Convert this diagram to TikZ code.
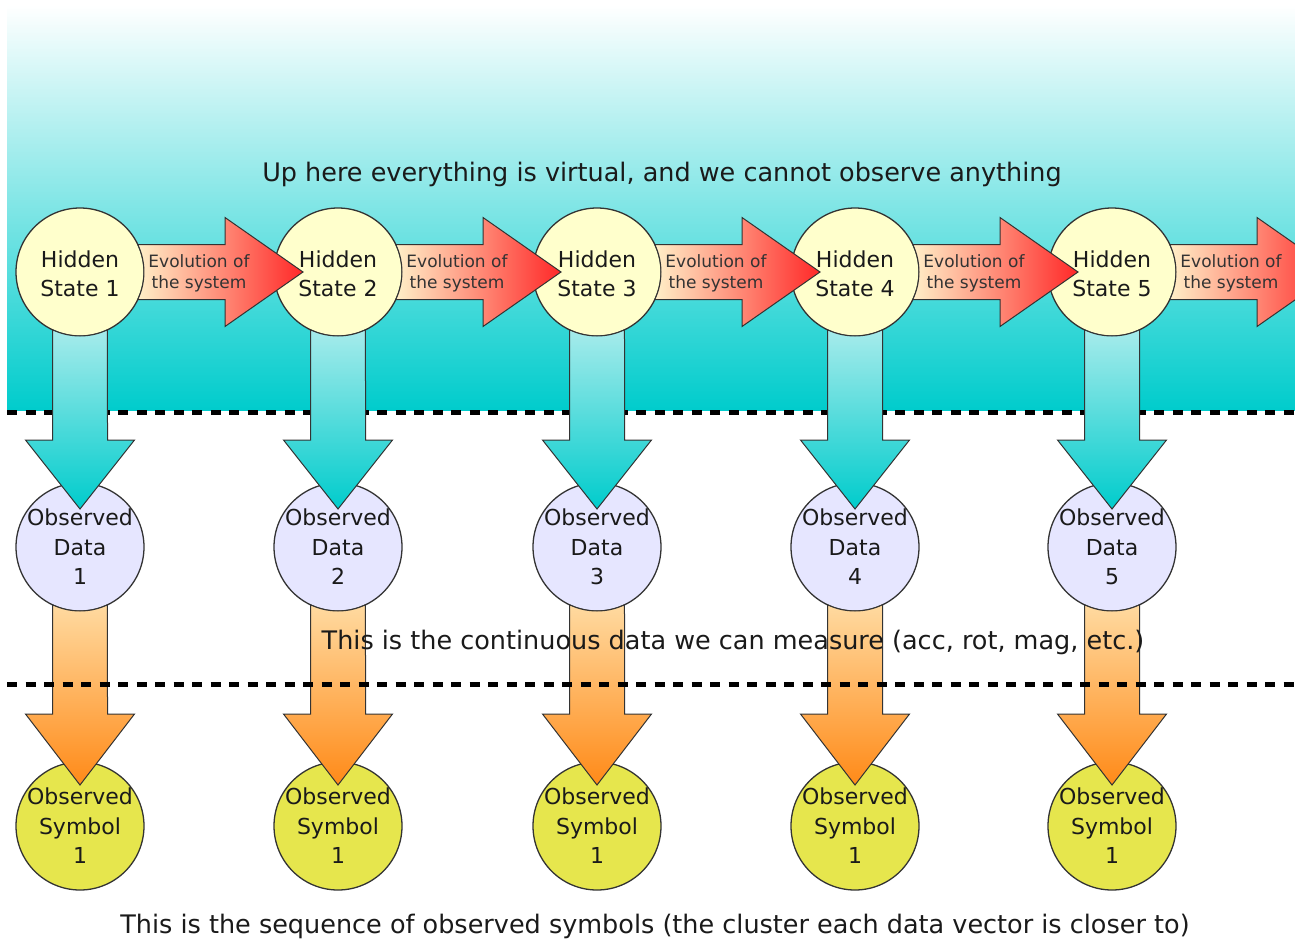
\documentclass[tikz,border=0pt]{standalone}
\usepackage{fontspec}
\setmainfont{DejaVu Sans}
\usetikzlibrary{calc}

\definecolor{ink}{HTML}{1A1A1A}
\definecolor{edge}{HTML}{333333}
\definecolor{skytop}{HTML}{FFFFFF}
\definecolor{skybottom}{HTML}{00CCCC}
\definecolor{hiddenfill}{HTML}{FFFFCC}
\definecolor{datafill}{HTML}{E6E6FF}
\definecolor{symbolfill}{HTML}{E6E64D}
\definecolor{evolA}{HTML}{FFF0C8}
\definecolor{evolB}{HTML}{FF2828}
\definecolor{measA}{HTML}{A6EBEB}
\definecolor{measB}{HTML}{00CCCC}
\definecolor{quantA}{HTML}{FFDAA0}
\definecolor{quantB}{HTML}{FF8A18}

\begin{document}
\begin{tikzpicture}[x=1pt,y=1pt,
  state/.style={circle, draw=edge, line width=1.3pt, minimum size=128pt,
                inner sep=0pt, outer sep=0pt},
  hidden/.style={state, fill=hiddenfill},
  data/.style={state, fill=datafill},
  symbol/.style={state, fill=symbolfill},
  lbl/.style={align=center, text=ink, font=\fontsize{22}{29.5}\selectfont},
  evolarrow/.style={draw=edge, line width=1pt, left color=evolA, right color=evolB},
  measarrow/.style={draw=edge, line width=1pt, top color=measA, bottom color=measB},
  quantarrow/.style={draw=edge, line width=1pt, top color=quantA, bottom color=quantB},
  evollbl/.style={align=center, text=edge, font=\fontsize{17}{21}\selectfont},
  caption/.style={text=ink, font=\fontsize{25.5}{30}\selectfont, anchor=base},
  divider/.style={line width=5pt, dash pattern=on 10pt off 8.5pt}
]
\useasboundingbox (0,0) rectangle (1295,-940);
\clip (0,0) rectangle (1295,-940);

% the unobservable region
\shade[top color=skytop, bottom color=skybottom] (7,-5) rectangle (1295,-410);

% state, data and symbol nodes, one column per time step
\foreach \cx/\k in {80/1,338/2,597/3,855/4,1112/5}{
  \node[hidden] (h\k) at (\cx,-272) {};
  \node[data]   (d\k) at (\cx,-547) {};
  \node[symbol] (s\k) at (\cx,-826) {};
}

% boundary of the hidden layer
\coordinate (topL) at (7,-412);
\coordinate (topR) at (1295,-412);
\draw[divider] (topL) -- (topR);

% quantisation: data -> symbol
\foreach \k in {1,...,5}{
  \path[quantarrow, shift={(d\k.center)}]
    (-64.56:64) -- (27.5,-167) -- (54.5,-167) -- (0,-238) -- (-54.5,-167)
    -- (-27.5,-167) -- (-115.44:64)
    arc[start angle=-115.44, end angle=-64.56, radius=64] -- cycle;
}

\node[caption] (midtext) at (733,-649)
  {This is the continuous data we can measure (acc, rot, mag, etc.)};

% boundary between continuous data and symbols
\coordinate (lowL) at (7,-684);
\coordinate (lowR) at (1295,-684);
\draw[divider] (lowL) -- (lowR);

% measurement: hidden state -> observed data
\foreach \k in {1,...,5}{
  \path[measarrow, shift={(h\k.center)}]
    (-64.56:64) -- (27.5,-168) -- (54.5,-168) -- (0,-237) -- (-54.5,-168)
    -- (-27.5,-168) -- (-115.44:64)
    arc[start angle=-115.44, end angle=-64.56, radius=64] -- cycle;
}

% evolution of the hidden state
\foreach \k in {1,...,5}{
  \path[evolarrow, shift={(h\k.center)}]
    (25.45:64) -- (145,27.5) -- (145,54.5) -- (223,0) -- (145,-54.5)
    -- (145,-27.5) -- (-25.45:64)
    arc[start angle=-25.45, end angle=25.45, radius=64] -- cycle;
  \node[evollbl] (e\k) at ($(h\k.center)+(119,-1)$) {Evolution of\\the system};
}

% node texts
\foreach \k in {1,...,5}{
  \node[lbl] (ht\k) at ($(h\k.center)+(0,-2)$) {Hidden\\State \k};
  \node[lbl] (dt\k) at (d\k) {Observed\\Data\\\k};
  \node[lbl] (st\k) at (s\k) {Observed\\Symbol\\1};
}

\node[caption] (toptext) at (662,-181)
  {Up here everything is virtual, and we cannot observe anything};
\node[caption] (bottomtext) at (655,-933)
  {This is the sequence of observed symbols (the cluster each data vector is closer to)};
\end{tikzpicture}
\end{document}
